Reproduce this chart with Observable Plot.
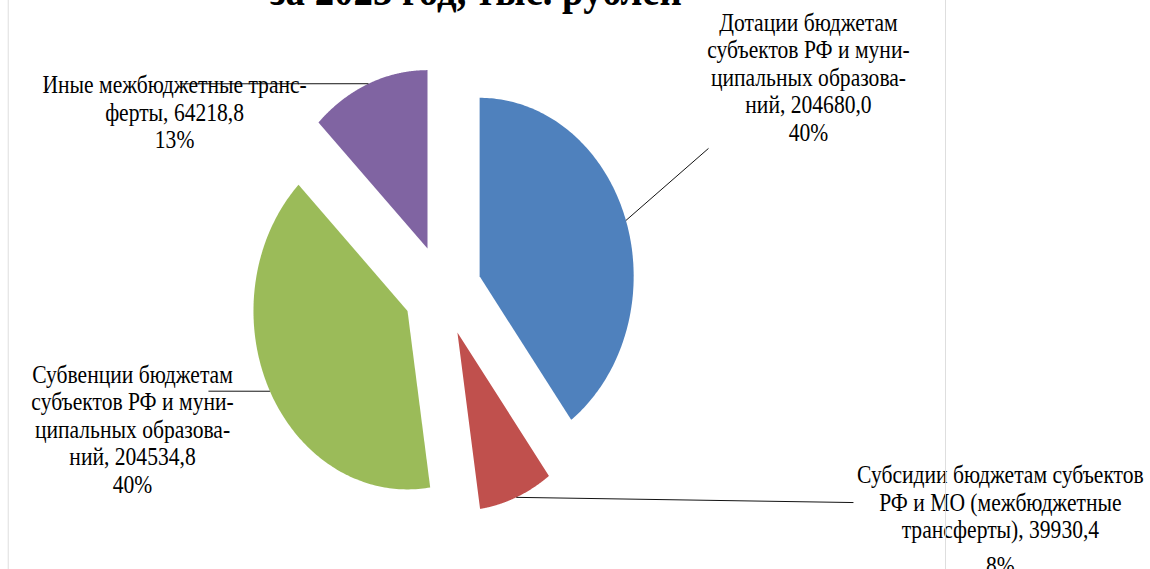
<!DOCTYPE html>
<html>
<head>
<meta charset="utf-8">
<script src="https://cdn.jsdelivr.net/npm/d3@7"></script>
<script src="https://cdn.jsdelivr.net/npm/@observablehq/plot@0.6"></script>
<style>
html, body { margin: 0; padding: 0; background: #fff; overflow: hidden; width: 1150px; height: 569px; }
#wrap { position: relative; width: 1333px; height: 569px; transform: scaleX(0.863); transform-origin: 0 0; }
#chart { position: absolute; left: 0; top: 0; }
#title { position: absolute; left: 0; width: 1103px; top: -32px; text-align: center;
  font: bold 45px/45px "Liberation Serif", "Times New Roman", serif; white-space: nowrap; color: #000; }
#frame { position: absolute; left: 9px; top: -20px; width: 1085px; height: 620px;
  border-left: 1.3px solid #d9d9d9; border-right: 1.3px solid #d9d9d9; pointer-events: none; }
</style>
</head>
<body>
<div id="wrap">
  <div id="chart"></div>
  <div id="title"></div>
  <div id="frame"></div>
</div>
<script>
// ---- data ----
const titleText = "за 2023 год, тыс. рублей";
const categories = [
  "Дотации бюджетам\nсубъектов РФ и муни-\nципальных образова-\nний",
  "Субсидии бюджетам субъектов\nРФ и МО (межбюджетные\nтрансферты)",
  "Субвенции бюджетам\nсубъектов РФ и муни-\nципальных образова-\nний",
  "Иные межбюджетные транс-\nферты"
];
const values = [204680.0, 39930.4, 204534.8, 64218.8];
const colors = ["#4F81BD", "#C0504D", "#9BBB59", "#8064A2"];

// ---- layout (in pie-radius units, pie centre at 0,0) ----
const W = 1333, H = 569, R = 178.5, CX = 512.2, CY = 290;
const explode = 0.254;
const labelPlacement = [
  {x: 2.376,  yText: 0.992,  yPct: 0.840,  lx: 1.727,  ly: 0.796},
  {x: 3.622,  yText: -1.389, yPct: -1.591, lx: 2.668,  ly: -1.188},
  {x: -2.012, yText: -0.980, yPct: -1.137, lx: -1.519, ly: -0.564},
  {x: -1.739, yText: 0.952,  yPct: 0.801,  lx: -1.701, ly: 1.158}
];

document.getElementById("title").textContent = titleText;

const total = d3.sum(values);
const arcs = d3.pie().sort(null).value(d => d)(values);

const slicePts = [];
const leaders = [];
const labels = [];
arcs.forEach((a, i) => {
  const mid = (a.startAngle + a.endAngle) / 2;
  const ox = explode * Math.sin(mid), oy = explode * Math.cos(mid);
  const k = categories[i];
  slicePts.push({k, x: ox, y: oy});
  const n = 160;
  for (let j = 0; j <= n; j++) {
    const t = a.startAngle + (a.endAngle - a.startAngle) * j / n;
    slicePts.push({k, x: ox + Math.sin(t), y: oy + Math.cos(t)});
  }
  slicePts.push({k, x: ox, y: oy});
  const p = labelPlacement[i];
  leaders.push({x1: ox + Math.sin(mid), y1: oy + Math.cos(mid), x2: p.lx, y2: p.ly});
  labels.push({
    x: p.x, yText: p.yText, yPct: p.yPct,
    name: k + ", " + values[i].toFixed(1).replace(".", ","),
    pct: d3.format(".0%")(values[i] / total)
  });
});

const font = "'Liberation Serif', 'Times New Roman', serif";
const chart = Plot.plot({
  width: W, height: H, margin: 0,
  x: {domain: [-CX / R, (W - CX) / R], axis: null},
  y: {domain: [-(H - CY) / R, CY / R], axis: null},
  color: {domain: categories, range: colors},
  style: {background: "transparent", fontFamily: font, color: "#000"},
  marks: [
    Plot.line(slicePts, {x: "x", y: "y", z: "k", fill: "k", stroke: "none", curve: "linear"}),
    Plot.text(labels, {x: "x", y: "yText", text: "name", lineAnchor: "bottom", lineHeight: 1.1,
      fontSize: 25, fontFamily: font, textAnchor: "middle", fill: "#000"}),
    Plot.text(labels, {x: "x", y: "yPct", text: "pct", lineAnchor: "bottom",
      fontSize: 25, fontFamily: font, textAnchor: "middle", fill: "#000"}),
    Plot.link(leaders, {x1: "x1", y1: "y1", x2: "x2", y2: "y2", stroke: "#000", strokeWidth: 1})
  ]
});
document.getElementById("chart").appendChild(chart);
</script>
</body>
</html>
